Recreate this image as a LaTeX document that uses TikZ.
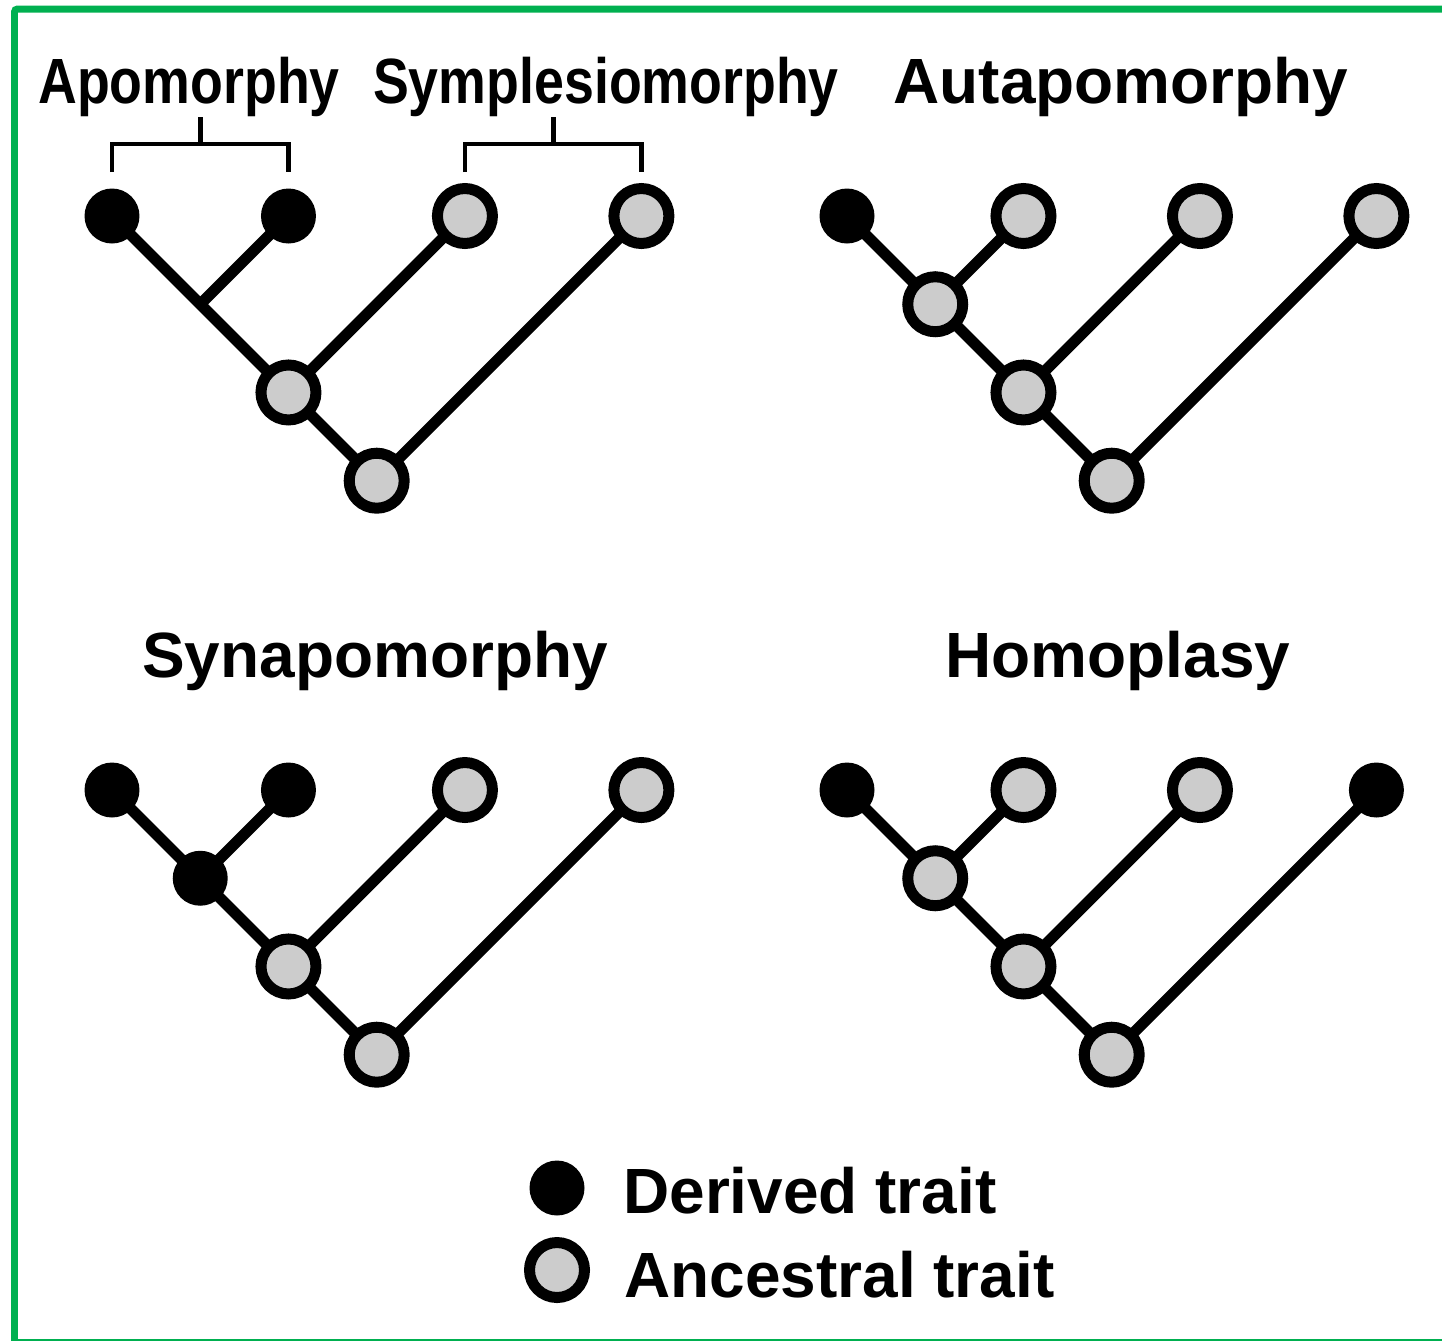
\documentclass[tikz,border=0pt]{standalone}
\usepackage{fontspec}
\setmainfont{Liberation Sans}
\newfontfamily\narrowsans[FakeStretch=0.84]{Liberation Sans}
\usepackage{tikz}
\usetikzlibrary{positioning, backgrounds, calc}
\definecolor{ancgray}{HTML}{CCCCCC}
\definecolor{framegreen}{RGB}{0,176,80}
\newcommand{\titlefont}{\bfseries\fontsize{36.4pt}{44pt}\selectfont}
\newcommand{\narrowtitlefont}{\narrowsans\bfseries\fontsize{36.4pt}{44pt}\selectfont}
% four leaves, two inner nodes and a root; #2 is the first leaf,
% #3-#6 the leaf styles, #7-#9 the styles of the inner nodes (top to root)
\newcommand{\cladogram}[9]{%
\node [#3] (#1a) at #2 {};
\node [#4] (#1b) [right=of #1a] {};
\node [#5] (#1c) [right=of #1b] {};
\node [#6] (#1d) [right=of #1c] {};
\node [#7] (#1ab) [below right=1.765cm and 1.765cm of #1a] {};
\node [#8] (#1abc) [below right=1.765cm and 1.765cm of #1ab] {};
\node [#9] (#1root) [below right=1.765cm and 1.765cm of #1abc] {};
\begin{scope}[on background layer]
\draw [branch] (#1a.center) -- (#1root.center) -- (#1d.center);
\draw [branch] (#1b.center) -- (#1ab.center);
\draw [branch] (#1c.center) -- (#1abc.center);
\end{scope}
}

\begin{document}
\begin{tikzpicture}[x=0.02cm, y=-0.02cm, node distance=3.53cm, on grid]
\tikzstyle{derived}=[circle,fill=black,minimum size=1.1cm,inner sep=0pt,outer sep=0pt]
\tikzstyle{ancestral}=[circle,draw=black,line width=0.22cm,fill=ancgray,minimum size=1.1cm,inner sep=0pt,outer sep=0pt]
\tikzstyle{junction}=[circle,inner sep=0pt,minimum size=0pt]
\tikzstyle{branch}=[line width=0.22cm]
\tikzstyle{bracket}=[line width=0.095cm]
\tikzstyle{title}=[font=\titlefont,inner sep=0pt,anchor=base]
\tikzstyle{narrowtitle}=[font=\narrowtitlefont,inner sep=0pt,anchor=base]
\tikzstyle{key}=[font=\titlefont,inner sep=0pt,anchor=base west]
\useasboundingbox (0,0) rectangle (1442,1340);
% frame
\begin{scope}
\clip (0,0) rectangle (1442,1340);
\draw [framegreen, line width=0.14cm, rounded corners=0.06cm] (14.5,9) rectangle (1460,1342.5);
\end{scope}

% the four trees
\cladogram{tl}{(112,216)}{derived}{derived}{ancestral}{ancestral}{junction}{ancestral}{ancestral}
\cladogram{tr}{(847,216)}{derived}{ancestral}{ancestral}{ancestral}{ancestral}{ancestral}{ancestral}
\cladogram{bl}{(112,790)}{derived}{derived}{ancestral}{ancestral}{derived}{ancestral}{ancestral}
\cladogram{br}{(847,790)}{derived}{ancestral}{ancestral}{derived}{ancestral}{ancestral}{ancestral}

% titles
\node [narrowtitle] (apo) at (189,103) {Apomorphy};
\node [narrowtitle] (plesio) at (606,103) {Symplesiomorphy};
\node [title] (autapo) at (1121,103) {Autapomorphy};
\node [title] (synapo) at (375,677) {Synapomorphy};
\node [title] (homo) at (1118,677) {Homoplasy};

% brackets under the two narrow titles
\coordinate (apomid) at ($(tla.center)!0.5!(tlb.center)$);
\coordinate (plesiomid) at ($(tlc.center)!0.5!(tld.center)$);
\draw [bracket] (tla |- 0,172) |- (tlb |- 0,144) -- (tlb |- 0,172)
  (apomid |- 0,144) -- (apomid |- 0,117);
\draw [bracket] (tlc |- 0,172) |- (tld |- 0,144) -- (tld |- 0,172)
  (plesiomid |- 0,144) -- (plesiomid |- 0,117);

% key
\node [derived] (keyd) at (557,1188) {};
\node [ancestral] (keya) at (557,1270) {};
\node [key] (keydtext) at (623,1213) {Derived trait};
\node [key] (keyatext) at (624,1297) {Ancestral trait};
\end{tikzpicture}
\end{document}
